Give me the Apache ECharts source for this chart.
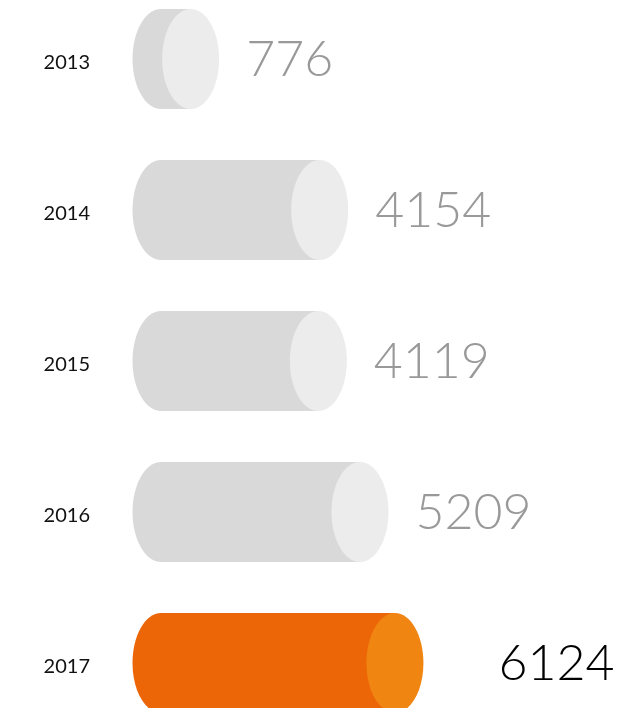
<!DOCTYPE html>
<html>
<head>
<meta charset="utf-8">
<script src="https://cdn.jsdelivr.net/npm/echarts@6/dist/echarts.min.js"></script>
<style>html,body{margin:0;padding:0;background:#fff;}#c{width:637px;height:708px;}</style>
</head>
<body>
<div id="c"></div>
<script>
var categories = ['2013', '2014', '2015', '2016', '2017'];
var values = [776, 4154, 4119, 5209, 6124];
var highlightIndex = 4;

var RX = 28.5, RY = 50;
var BODY = '#d9d9d9', CAP = '#ececec';
var HBODY = '#ec6608', HCAP = '#f08512';
var LABEL_FONT = '300 50px Lato, "Open Sans", sans-serif';

var chart = echarts.init(document.getElementById('c'));
chart.setOption({
  animation: false,
  grid: { left: 161, width: 382, top: 59, bottom: 45 },
  xAxis: { type: 'value', min: 0, max: 10000, show: false },
  yAxis: {
    type: 'category', data: categories, inverse: true, boundaryGap: false,
    axisLine: { show: false }, axisTick: { show: false }, splitLine: { show: false },
    axisLabel: {
      margin: 71, color: '#111', fontSize: 20, fontFamily: 'Lato, "Open Sans", sans-serif',
      formatter: '{a|{value}}',
      rich: { a: { color: '#111', fontSize: 20, fontFamily: 'Lato, "Open Sans", sans-serif', padding: [8, 0, 0, 0] } }
    }
  },
  series: [{
    type: 'custom',
    data: values.map(function (v, i) { return [v, i]; }),
    encode: { x: 0, y: 1 },
    renderItem: function (params, api) {
      var i = api.value(1);
      var p0 = api.coord([0, i]);
      var p1 = api.coord([api.value(0), i]);
      var hi = params.dataIndex === highlightIndex;
      var body = hi ? HBODY : BODY, cap = hi ? HCAP : CAP;
      var gap = hi ? 75 : 27;
      return {
        type: 'group',
        children: [
          { type: 'ellipse', shape: { cx: p0[0], cy: p0[1], rx: RX, ry: RY }, style: { fill: body } },
          { type: 'rect', shape: { x: p0[0], y: p0[1] - RY, width: p1[0] - p0[0], height: RY * 2 }, style: { fill: body } },
          { type: 'ellipse', shape: { cx: p1[0], cy: p1[1], rx: RX, ry: RY }, style: { fill: cap } },
          { type: 'text', x: p1[0] + RX + gap, y: p1[1] + 1,
            style: { text: String(values[params.dataIndex]), fill: hi ? '#000' : '#999', font: LABEL_FONT,
                     textAlign: 'left', textVerticalAlign: 'middle', verticalAlign: 'middle' } }
        ]
      };
    }
  }]
});
</script>
</body>
</html>
